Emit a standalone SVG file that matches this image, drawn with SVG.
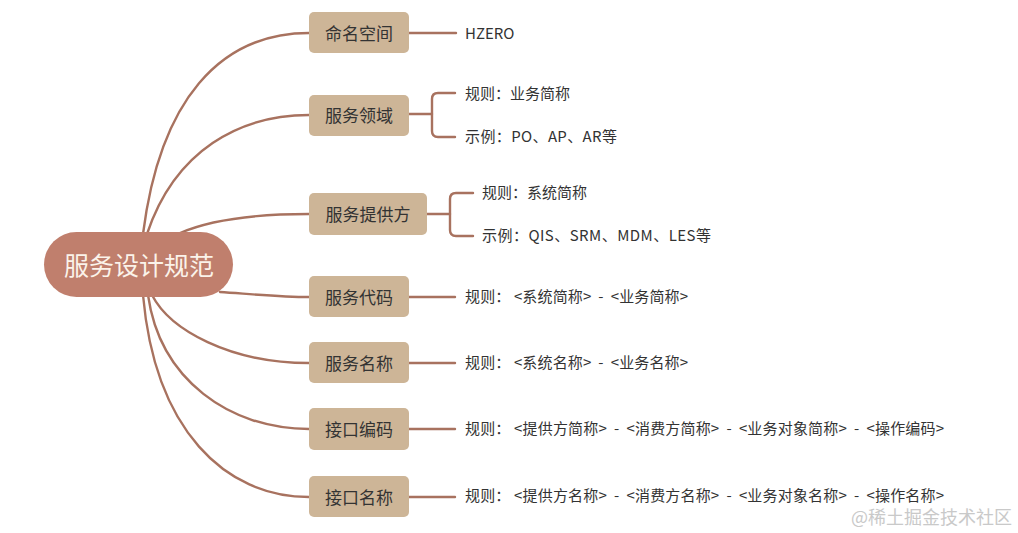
<svg xmlns="http://www.w3.org/2000/svg" width="1018" height="533" viewBox="0 0 1018 533">
<style>
.ln{fill:none;stroke:#a8725f;stroke-width:2.4;stroke-linecap:round}
.nd{fill:#cdb597}
.nt{font-family:"Noto Sans CJK SC","Microsoft YaHei",sans-serif;font-size:17px;fill:#333;text-anchor:middle;dominant-baseline:central}
.lt{font-family:"Noto Sans CJK SC","Microsoft YaHei",sans-serif;font-size:15px;fill:#333;dominant-baseline:central;white-space:pre}
</style>
<rect width="1018" height="533" fill="#fff"/>
<g id="connectors">
<path class="ln" d="M143,234 C160,100 220,33 309,33"/>
<path class="ln" d="M147,234 C175,150 240,115 309,115"/>
<path class="ln" d="M180,233 C210,220 250,214 309,214"/>
<path class="ln" d="M220,292 C250,294 280,297 309,297"/>
<path class="ln" d="M152,295 C170,330 230,363 309,363"/>
<path class="ln" d="M148,295 C160,380 230,429 309,429"/>
<path class="ln" d="M143,295 C155,430 225,497 309,497"/>
<path class="ln" d="M408,33 H456"/>
<path class="ln" d="M408,114 H432"/>
<path class="ln" d="M455,93 H438 Q432,93 432,99 V131 Q432,137 438,137 H455"/>
<path class="ln" d="M426,214 H450"/>
<path class="ln" d="M473,193 H456 Q450,193 450,199 V230 Q450,236 456,236 H473"/>
<path class="ln" d="M408,297 H455"/>
<path class="ln" d="M408,363 H455"/>
<path class="ln" d="M408,429 H455"/>
<path class="ln" d="M408,497 H455"/>
</g>
<g id="root">
<rect x="44" y="232" width="189" height="65" rx="32.5" fill="#c07f6d"/>
<text x="139" y="264" font-family="Noto Sans CJK SC,Microsoft YaHei,sans-serif" font-size="25" fill="#fbf3ea" text-anchor="middle" dominant-baseline="central">服务设计规范</text>
</g>
<g id="n1">
<rect class="nd" x="309" y="12" width="100" height="41" rx="5"/>
<text class="nt" x="359" y="32">命名空间</text>
</g>
<g id="n2">
<rect class="nd" x="309" y="95" width="100" height="41" rx="5"/>
<text class="nt" x="359" y="114.5">服务领域</text>
</g>
<g id="n3">
<rect class="nd" x="309" y="193" width="118" height="42" rx="5"/>
<text class="nt" x="368" y="213">服务提供方</text>
</g>
<g id="n4">
<rect class="nd" x="309" y="276" width="100" height="41" rx="5"/>
<text class="nt" x="359" y="296">服务代码</text>
</g>
<g id="n5">
<rect class="nd" x="309" y="342" width="100" height="41" rx="5"/>
<text class="nt" x="359" y="362">服务名称</text>
</g>
<g id="n6">
<rect class="nd" x="309" y="408" width="100" height="42" rx="5"/>
<text class="nt" x="359" y="428">接口编码</text>
</g>
<g id="n7">
<rect class="nd" x="309" y="476" width="100" height="41" rx="5"/>
<text class="nt" x="359" y="496">接口名称</text>
</g>
<g id="leaf1"><text class="lt" x="465" y="32">HZERO</text></g>
<g id="leaf2a"><text class="lt" x="465" y="92.5">规则：业务简称</text></g>
<g id="leaf2b"><text class="lt" x="465" y="135.5" textLength="152" lengthAdjust="spacing">示例：PO、AP、AR等</text></g>
<g id="leaf3a"><text class="lt" x="482" y="191.5">规则：系统简称</text></g>
<g id="leaf3b"><text class="lt" x="482" y="234.5" textLength="229" lengthAdjust="spacing">示例：QIS、SRM、MDM、LES等</text></g>
<g id="leaf4"><text class="lt" x="465" y="295.5" textLength="223" lengthAdjust="spacing">规则： &lt;系统简称&gt;  -  &lt;业务简称&gt;</text></g>
<g id="leaf5"><text class="lt" x="465" y="361.5" textLength="223" lengthAdjust="spacing">规则： &lt;系统名称&gt;  -  &lt;业务名称&gt;</text></g>
<g id="leaf6"><text class="lt" x="465" y="427.5" textLength="479" lengthAdjust="spacing">规则： &lt;提供方简称&gt;  -  &lt;消费方简称&gt;  -  &lt;业务对象简称&gt;  -  &lt;操作编码&gt;</text></g>
<g id="leaf7"><text class="lt" x="465" y="494.5" textLength="479" lengthAdjust="spacing">规则： &lt;提供方名称&gt;  -  &lt;消费方名称&gt;  -  &lt;业务对象名称&gt;  -  &lt;操作名称&gt;</text></g>
<text x="1012" y="516" font-family="Noto Sans CJK SC,sans-serif" font-size="18" fill="#c9c9c9" text-anchor="end" dominant-baseline="central">@稀土掘金技术社区</text>
</svg>
